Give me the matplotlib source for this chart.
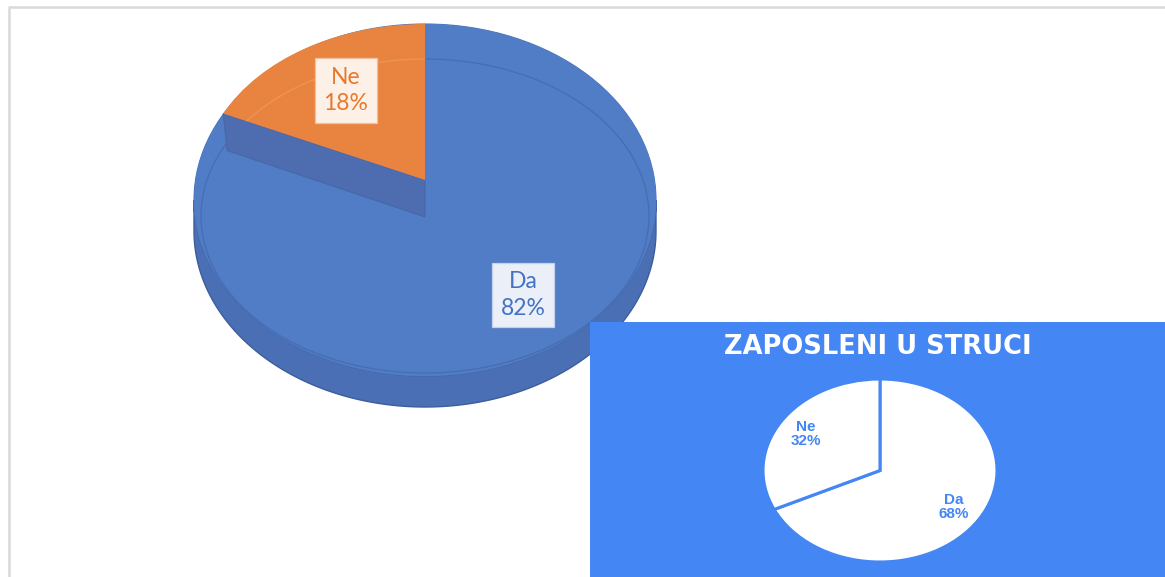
import numpy as np
import matplotlib
matplotlib.use("Agg")
import matplotlib.pyplot as plt
from matplotlib.patches import Wedge, Ellipse, Polygon, Rectangle
from matplotlib.transforms import Affine2D

# ---------------- data ----------------
main_labels = ["Da", "Ne"]
main_values = [82, 18]
inset_labels = ["Da", "Ne"]
inset_values = [68, 32]
inset_title = "ZAPOSLENI U STRUCI"

# ---------------- style ----------------
W, H = 1165, 577
BLUE_TOP = "#517dc6"
BLUE_SIDE = "#4b6fb4"
BLUE_WALL = "#4d6db0"
ORANGE = "#e8843f"
PANEL = "#4386f4"

fig = plt.figure(figsize=(W / 100, H / 100), dpi=100)
ax = fig.add_axes([0, 0, 1, 1])
ax.set_xlim(0, W)
ax.set_ylim(H, 0)
ax.axis("off")

# light frame
ax.plot([8.5, 8.5, W], [H, 6.5, 6.5], color="#d9d9d9", lw=1.8, zorder=0)


def ell_tf(cx, cy, a, b):
    return Affine2D().scale(a, -b).translate(cx, cy) + ax.transData


def clockwise_angles(values, start=90.0):
    total = float(sum(values))
    out = []
    cur = start
    for v in values:
        span = 360.0 * v / total
        out.append((cur - span, cur))  # (theta1, theta2) counter-clockwise form
        cur -= span
    return out


# geometry of the 3D pie (layout constants)
cx, cy, a, b = 425, 200, 231, 176     # top face of the main slice
depth = 31
ocx, ocy, oa, ob = 425, 180, 223, 156  # raised small slice
wall = 37

angles = clockwise_angles(main_values)
(da1, da2), (ne1, ne2) = angles

# body (side) of the pie
t = np.radians(np.linspace(180, 360, 200))
top_x = cx + a * np.cos(t)
top_y = cy - b * np.sin(t)
bot_x = top_x[::-1]
bot_y = (cy + depth) - b * np.sin(t[::-1])
body = Polygon(np.column_stack([np.r_[top_x, bot_x], np.r_[top_y, bot_y]]),
               closed=True, fc=BLUE_SIDE, ec="#3d5d9c", lw=1.0, zorder=1)
ax.add_patch(body)

# top face underlay and "Da" slice
ax.add_patch(Ellipse((cx, cy), 2 * a, 2 * b, fc=BLUE_TOP, ec="#4a74bb", lw=0.8, zorder=1.5))
top_da = Wedge((0, 0), 1, da1, da2, transform=ell_tf(cx, cy, a, b),
               fc=BLUE_TOP, ec="none", zorder=2)
ax.add_patch(top_da)
# bevel line on top face
inner = Ellipse((425, 216), 2 * 224, 2 * 157, fill=False, ec="#456db2",
                lw=0.9, zorder=2.5)
ax.add_patch(inner)

# wall under the raised slice (radial edge of the "Ne" slice)
r = np.radians(ne2)
px = ocx + oa * np.cos(r)
py = ocy - ob * np.sin(r)
wall_poly = Polygon([[ocx, ocy], [px, py], [px + 4, py + wall], [ocx, ocy + wall]],
                    closed=True, fc=BLUE_WALL, ec="#4767aa", lw=0.8, zorder=3)
ax.add_patch(wall_poly)

# top face of "Ne"
top_ne = Wedge((0, 0), 1, ne1, ne2, transform=ell_tf(ocx, ocy, oa, ob),
               fc=ORANGE, ec="none", zorder=4)
ax.add_patch(top_ne)
inner2 = Ellipse((425, 216), 2 * 224, 2 * 157, fill=False, ec="#ee9556",
                 lw=0.9, zorder=4.5)
ax.add_patch(inner2)
inner2.set_clip_path(top_ne)

# data labels for the main pie
lab_font = ["Lato", "DejaVu Sans"]
for lab, val, (t1, t2), centre, box_fc, box_ec, col in [
    (main_labels[0], main_values[0], (da1, da2), (cx + 14, cy - 6, a, b), "#eaeff8", "#c5d2ec", "#4472c4"),
    (main_labels[1], main_values[1], (ne1, ne2), (ocx + 2, ocy, oa, ob), "#fdf0e7", "#f2c09c", "#e8792c"),
]:
    mid = np.radians((t1 + t2) / 2)
    ecx, ecy, ea, eb = centre
    lx = ecx + 0.68 * ea * np.cos(mid)
    ly = ecy - 0.68 * eb * np.sin(mid)
    ax.text(lx, ly, f"{lab}\n{val}%", ha="center", va="center", color=col,
            fontsize=16.5, family=lab_font, linespacing=1.3, zorder=6,
            bbox=dict(boxstyle="square,pad=0.38", fc=box_fc, ec=box_ec, lw=0.9))

# ---------------- inset panel ----------------
ax.add_patch(Rectangle((590, 322), W - 590, H - 322, fc=PANEL, ec="none", zorder=10))
ax.text(878, 347, inset_title, ha="center", va="center", color="white",
        fontsize=18.5, fontweight="bold", family=["DejaVu Sans"], zorder=11)

ax2 = fig.add_axes([763 / W, (H - 562) / H, 234 / W, 183 / H])
wedges, texts = ax2.pie(
    inset_values,
    labels=[f"{l}\n{v}%" for l, v in zip(inset_labels, inset_values)],
    startangle=90, counterclock=False, radius=1.0,
    colors=["white", "white"], labeldistance=0.75,
    wedgeprops=dict(edgecolor=PANEL, linewidth=2.2),
    textprops=dict(color=PANEL, fontsize=11, fontweight="bold",
                   family=["Liberation Sans", "DejaVu Sans"], linespacing=1.0),
)
for tx in texts:
    tx.set_ha("center")
    tx.set_va("center")
ax2.set_aspect("auto")
ax2.set_xlim(-1, 1)
ax2.set_ylim(-1, 1)
ax2.axis("off")

fig.savefig("out.png", dpi=100)
